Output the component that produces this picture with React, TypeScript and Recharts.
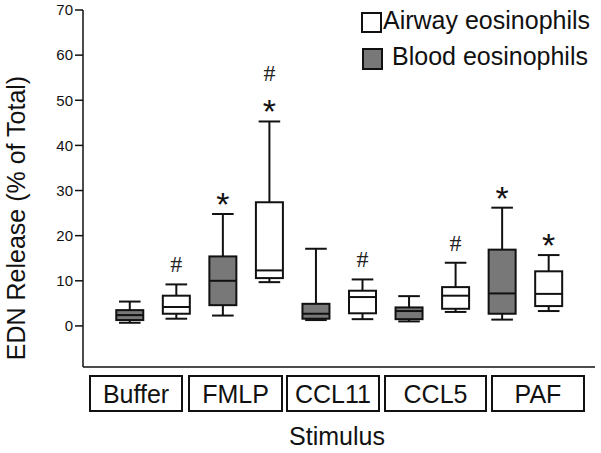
import { ComposedChart, Bar, XAxis, YAxis } from 'recharts';

// Stimulus groups; each group has a blood box then an airway box
const groups = ['Buffer', 'FMLP', 'CCL11', 'CCL5', 'PAF'];

const bloodMin = [0.7, 2.3, 1.3, 1.0, 1.4];
const bloodQ1 = [1.3, 4.6, 1.6, 1.5, 2.7];
const bloodMed = [2.4, 10.0, 2.7, 3.3, 7.2];
const bloodQ3 = [3.5, 15.4, 4.9, 4.1, 16.9];
const bloodMax = [5.4, 24.8, 17.1, 6.6, 26.2];
const bloodMarks = [[], ['*'], [], [], ['*']];

const airwayMin = [1.6, 9.7, 1.5, 3.1, 3.3];
const airwayQ1 = [2.7, 10.6, 2.8, 3.8, 4.4];
const airwayMed = [4.2, 12.3, 6.4, 6.7, 7.1];
const airwayQ3 = [6.7, 27.4, 7.8, 8.6, 12.1];
const airwayMax = [9.2, 45.3, 10.3, 14.0, 15.7];
const airwayMarks = [['#'], ['*', '#'], ['#'], ['#'], ['*']];

const yTicks = [0, 10, 20, 30, 40, 50, 60, 70];
const xTicks = [1, 2, 3, 4, 5, 6, 7, 8, 9, 10, 11];

const series = [
  { name: 'Airway eosinophils', fill: '#ffffff' },
  { name: 'Blood eosinophils', fill: '#787878' },
];

const FONT = '"Liberation Sans", Arial, sans-serif';

const rows = groups.flatMap((g, i) => [
  { x: i * 2 + 1, group: g, kind: 'blood', min: bloodMin[i], q1: bloodQ1[i], med: bloodMed[i], q3: bloodQ3[i], max: bloodMax[i], marks: bloodMarks[i] },
  { x: i * 2 + 2, group: g, kind: 'airway', min: airwayMin[i], q1: airwayQ1[i], med: airwayMed[i], q3: airwayQ3[i], max: airwayMax[i], marks: airwayMarks[i] },
]);

function BoxShape(props: any) {
  const { x, y, width, height } = props;
  const p = props.payload ?? props;
  const top = Math.min(y, y + height);
  const bot = Math.max(y, y + height);
  const span = p.max - p.min || 1;
  const py = (v: number) => bot - ((v - p.min) / span) * (bot - top);
  const cx = x + width / 2;
  const cap = width * 0.4;
  const fill = p.kind === 'blood' ? series[1].fill : series[0].fill;
  let offset = 0;
  return (
    <g stroke="#111" strokeWidth={2}>
      <line x1={cx} x2={cx} y1={py(p.max)} y2={py(p.q3)} />
      <line x1={cx} x2={cx} y1={py(p.q1)} y2={py(p.min)} />
      <line x1={cx - cap} x2={cx + cap} y1={py(p.max)} y2={py(p.max)} />
      <line x1={cx - cap} x2={cx + cap} y1={py(p.min)} y2={py(p.min)} />
      <rect x={x} y={py(p.q3)} width={width} height={py(p.q1) - py(p.q3)} fill={fill} />
      <line x1={x} x2={x + width} y1={py(p.med)} y2={py(p.med)} />
      {p.marks.map((m: string, k: number) => {
        offset += k === 0 ? (m === '*' ? 17 : 20) : 31;
        const cy = py(p.max) - offset;
        return m === '*' ? (
          <text key={k} x={cx} y={cy + 19} textAnchor="middle" fontSize={34} fontFamily={FONT} fill="#111" stroke="none">*</text>
        ) : (
          <text key={k} x={cx} y={cy + 8} textAnchor="middle" fontSize={24} fontFamily='"Liberation Serif", serif' fill="#222" stroke="none">#</text>
        );
      })}
    </g>
  );
}

// label boxes under the axis
const groupBoxLeft = [89, 188, 286, 384, 491];
const groupBoxWidth = [94, 95, 94, 103, 94];

export default function App() {
  return (
    <div style={{ position: 'absolute', left: 0, top: 0, width: 601, height: 453, background: '#fff' }}>
      <ComposedChart width={601} height={453} data={rows} margin={{ top: 10, right: 6, bottom: 56, left: 0 }}>
        <XAxis
          type="number"
          dataKey="x"
          domain={[0, 11]}
          ticks={xTicks}
          tick={false}
          tickSize={4}
          height={30}
          stroke="#111"
          strokeWidth={1.5}
        />
        <YAxis
          type="number"
          domain={[-9.1, 70]}
          allowDataOverflow
          ticks={yTicks}
          width={83}
          tickSize={8}
          stroke="#111"
          strokeWidth={1.5}
          tick={{ fontSize: 15, fill: '#111', fontFamily: FONT }}
        />
        <Bar
          dataKey={(d: any) => [d.min, d.max]}
          barSize={27}
          shape={<BoxShape />}
          isAnimationActive={false}
        />
      </ComposedChart>
      <svg width={601} height={453} style={{ position: 'absolute', left: 0, top: 0, pointerEvents: 'none' }}>
        <text x={25} y={218} transform="rotate(-90 25 218)" textAnchor="middle" fontSize={25} fontFamily={FONT} fill="#111">
          EDN Release (% of Total)
        </text>
        {groups.map((g, i) => (
          <g key={g}>
            <rect x={groupBoxLeft[i] + 1} y={376} width={groupBoxWidth[i] - 2} height={35} fill="none" stroke="#111" strokeWidth={2} />
            <text x={groupBoxLeft[i] + groupBoxWidth[i] / 2} y={403} textAnchor="middle" fontSize={25} fontFamily={FONT} fill="#111">{g}</text>
          </g>
        ))}
        <text x={337} y={445} textAnchor="middle" fontSize={25} fontFamily={FONT} fill="#111">Stimulus</text>
        <rect x={362} y={13} width={19} height={19} fill={series[0].fill} stroke="#111" strokeWidth={2} />
        <text x={383} y={29} fontSize={25} fontFamily={FONT} fill="#111">{series[0].name}</text>
        <rect x={363} y={49} width={19} height={20} fill={series[1].fill} stroke="#111" strokeWidth={2} />
        <text x={392} y={65} fontSize={25} fontFamily={FONT} fill="#111">{series[1].name}</text>
      </svg>
    </div>
  );
}
